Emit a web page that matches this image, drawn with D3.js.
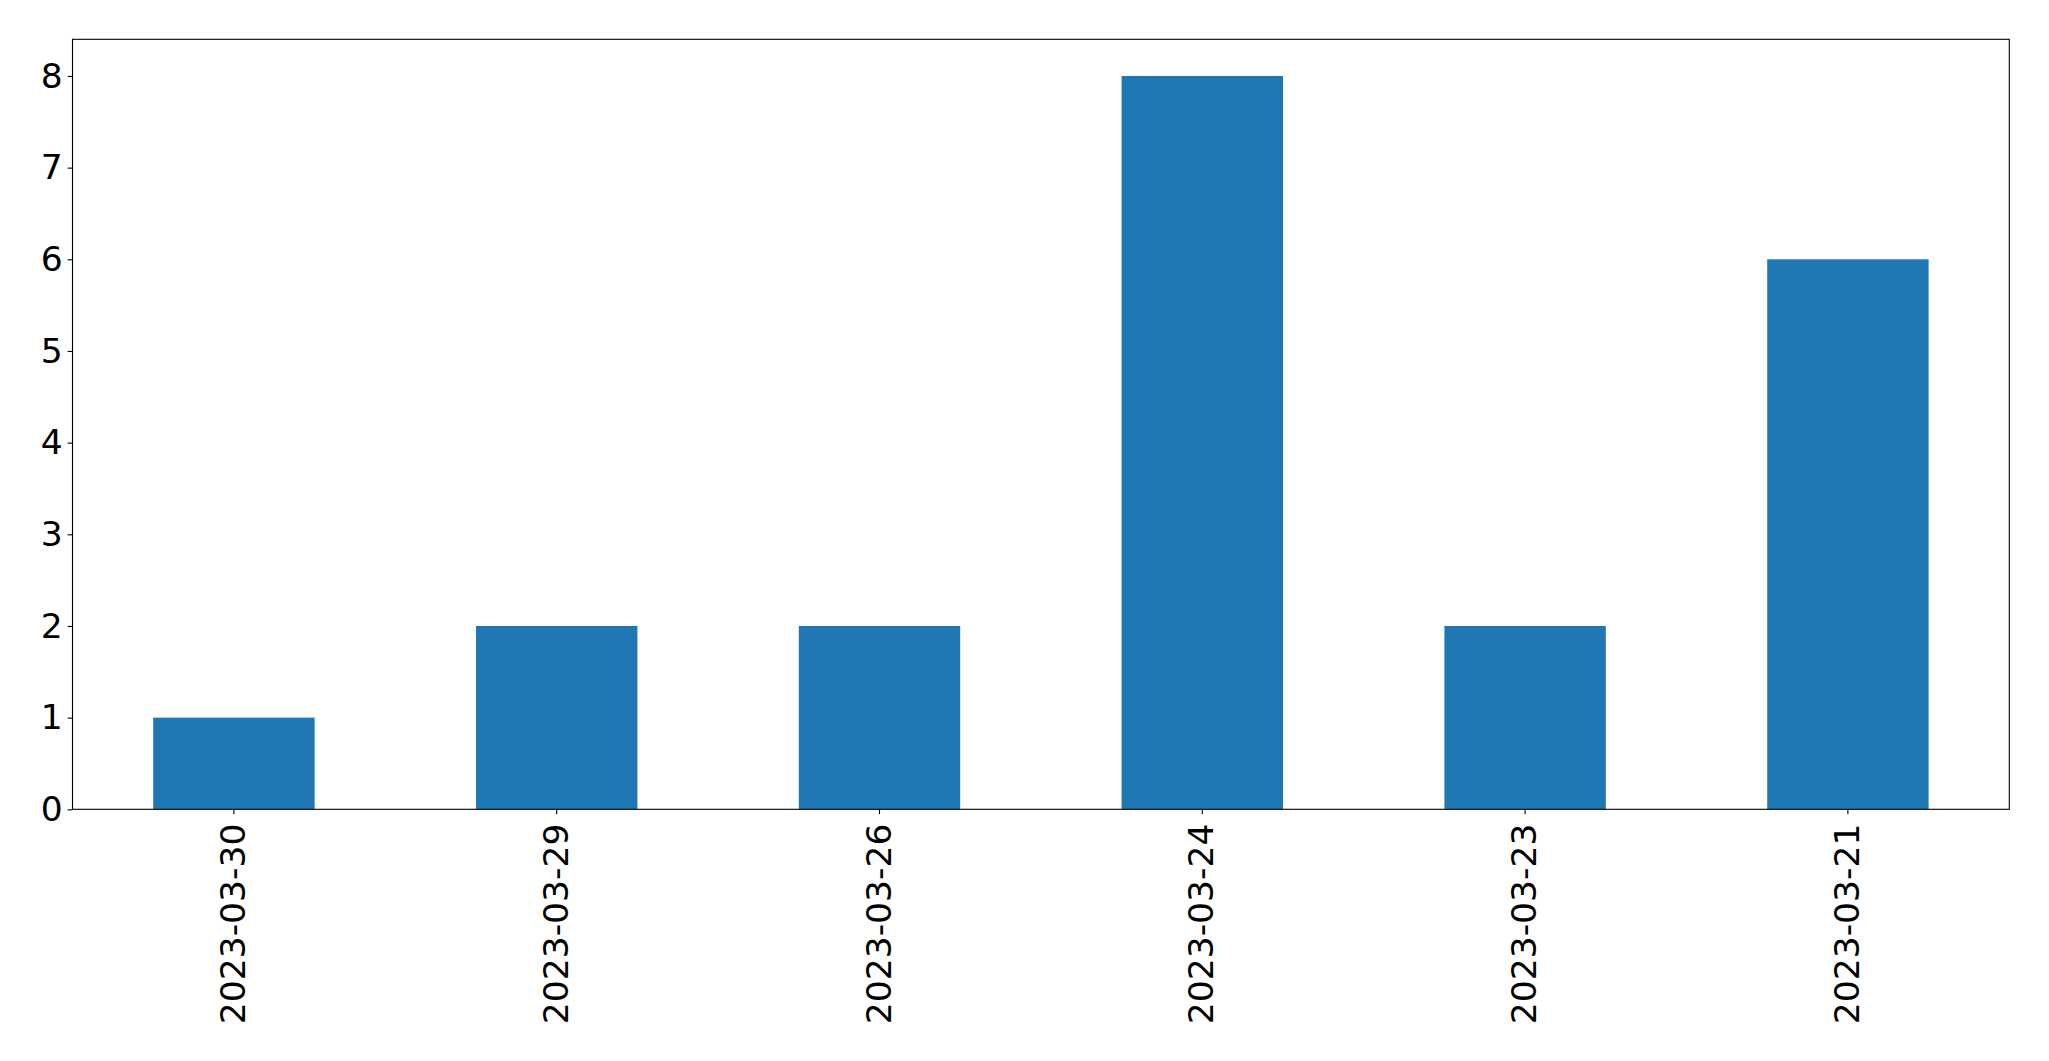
<!DOCTYPE html>
<html><head><meta charset="utf-8">
<script src="https://cdn.jsdelivr.net/npm/d3@7"></script>
<style>body{margin:0;background:#fff}svg{display:block}</style>
</head><body>
<script>
const categories = ["2023-03-30","2023-03-29","2023-03-26","2023-03-24","2023-03-23","2023-03-21"];
const values = [1,2,2,8,2,6];
const yTicks = [0,1,2,3,4,5,6,7,8];

const W = 2049, H = 1061;
const L = 72.5, R = 2009.3, T = 39.3, B = 809.3;
const fontSize = 34.5;
const svg = d3.select("body").append("svg").attr("width", W).attr("height", H)
  .style("font-family", "'DejaVu Sans', sans-serif");

const x = d3.scaleBand().domain(categories).range([L, R]).paddingInner(0.5).paddingOuter(0.25);
const y = d3.scaleLinear().domain([0, 8.4]).range([B, T]);

svg.append("g").selectAll("rect").data(categories).join("rect")
  .attr("x", d => x(d)).attr("width", x.bandwidth())
  .attr("y", (d,i) => y(values[i])).attr("height", (d,i) => y(0) - y(values[i]))
  .attr("fill", "#1f77b4");

const tickLen = 4.86, pad = 4.86;
const yAxis = d3.axisLeft(y).tickValues(yTicks).tickSize(tickLen).tickPadding(pad).tickFormat(d3.format("d"));
const gy = svg.append("g").attr("transform", `translate(${L},0)`).call(yAxis);
gy.select(".domain").remove();
gy.selectAll(".tick line").attr("stroke", "#000").attr("stroke-width", 1.1);
gy.selectAll(".tick text").attr("font-size", fontSize).attr("fill", "#000").attr("font-family", "'DejaVu Sans', sans-serif");

const xAxis = d3.axisBottom(x).tickSize(tickLen).tickPadding(pad);
const gx = svg.append("g").attr("transform", `translate(0,${B})`).call(xAxis);
gx.select(".domain").remove();
gx.selectAll(".tick line").attr("stroke", "#000").attr("stroke-width", 1.1);
gx.selectAll(".tick text").attr("font-size", fontSize).attr("fill", "#000")
  .attr("font-family", "'DejaVu Sans', sans-serif")
  .attr("transform", `translate(0,${tickLen + 9.5}) rotate(-90)`)
  .attr("x", 0).attr("y", 0).attr("dy", "0.32em")
  .attr("text-anchor", "end");

svg.append("rect").attr("x", L).attr("y", T).attr("width", R - L).attr("height", B - T)
  .attr("fill", "none").attr("stroke", "#000").attr("stroke-width", 1.1);
</script>
</body></html>
